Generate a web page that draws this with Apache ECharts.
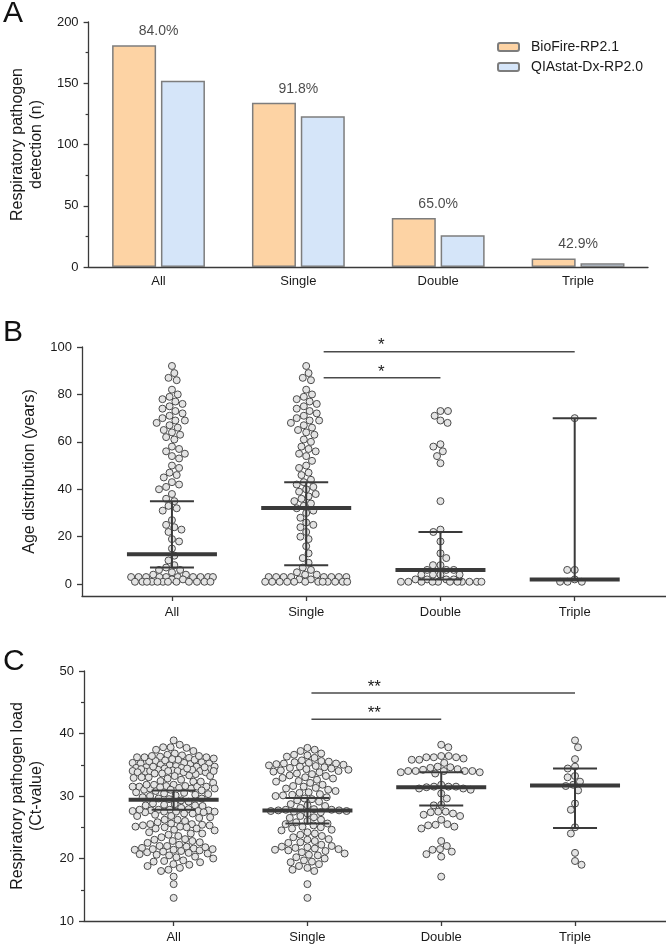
<!DOCTYPE html>
<html>
<head>
<meta charset="utf-8">
<script src="https://cdn.jsdelivr.net/npm/echarts@6/dist/echarts.min.js"></script>
<style>
html,body{margin:0;padding:0;background:#fff;}
#main{width:666px;height:949px;}
</style>
</head>
<body>
<div id="main"></div>
<script>
// ---------------- data ----------------
const categories = ['All', 'Single', 'Double', 'Triple'];
const seriesNames = ['BioFire-RP2.1', 'QIAstat-Dx-RP2.0'];
const bioFire = [181, 134, 40, 7];
const qiastat = [152, 123, 26, 3];

// Panel B: age (years)
const ageAll = [92, 89, 87, 86, 82, 80, 79, 78, 77, 76, 75, 74, 73, 72, 71, 70, 69, 69, 68, 67, 66, 65, 64, 63, 62, 61,
  58, 57, 56, 55, 54, 53, 50, 49, 47, 46, 45, 43, 42, 41, 40, 38, 36, 35, 33, 32, 31, 27, 25, 24, 23, 22, 19, 18, 15,
  12, 10, 8, 7, 6, 6, 5, 4, 4, 3, 3, 3, 3, 3, 3, 3, 3, 3, 3, 2, 2, 1, 1, 1, 1, 1, 1, 1, 1, 1, 1, 1, 1];
const ageSingle = [92, 89, 87, 86, 82, 80, 79, 78, 77, 76, 75, 74, 73, 72, 71, 70, 69, 69, 68, 67, 66, 65, 64, 63, 61,
  60, 58, 57, 56, 55, 54, 52, 50, 49, 47, 46, 44, 43, 42, 41, 40, 39, 38, 37, 36, 35, 34, 33, 32, 31, 30, 28, 26, 25,
  24, 22, 20, 19, 16, 13, 11, 9, 7, 6, 5, 4, 4, 3, 3, 3, 3, 3, 3, 3, 3, 2, 2, 1, 1, 1, 1, 1, 1, 1, 1, 1, 1, 1, 1];
const ageDouble = [73, 73, 71, 69, 68, 59, 58, 56, 54, 51, 35, 23, 22, 18, 13, 11, 8, 8, 6, 6, 6, 4, 4, 4, 4,
  2, 2, 2, 2, 1, 1, 1, 1, 1, 1, 1, 1, 1, 1, 1];
const ageTriple = [70, 6, 6, 2, 1, 1, 1];
const ageMedian = [12.6, 32.1, 6.0, 2.0];
const ageLower = [7.0, 8.0, 2.0, 2.0];
const ageUpper = [35.0, 43.0, 22.0, 70.0];
const ageTicks = [0, 20, 40, 60, 80, 100];
const ageMinorTicks = [10, 30, 50, 70, 90];
const sigAgeStart = [1.13, 1.13];
const sigAgeEnd = [3, 2];
const sigAgeLevel = [98, 87];
const sigAgeStarX = [1.56, 1.56];
const sigAgeText = ['*', '*'];

// Panel C: Ct values
const ctSingle = [37.7, 37.4, 37.2,
  36.8, 36.6, 36.3, 36.1, 36.5,
  35.6, 35.4, 35.2, 35.1, 35.5, 35.3, 35.0, 35.7, 35.2,
  34.9, 34.7, 34.5, 34.2, 34.0, 34.8, 34.4, 34.1, 34.6, 34.3,
  33.8, 33.5, 33.2, 33.0, 33.6, 33.3, 33.9,
  32.9, 32.6, 32.3, 32.1, 32.8, 32.4,
  31.8, 31.5, 31.2, 31.6, 31.3, 31.0,
  30.8, 30.5, 30.2, 30.0, 30.6, 30.3, 30.1,
  29.8, 29.5, 29.3, 29.6, 29.1,
  28.7, 28.4, 28.1, 28.5,
  27.9, 27.7, 27.6, 27.8, 27.7, 27.5, 27.6, 27.8, 27.4, 27.2,
  26.8, 26.5, 26.2, 26.0, 26.6,
  25.8, 25.5, 25.3, 25.1, 25.6, 25.0,
  24.8, 24.5, 24.2, 24.0, 24.6,
  23.8, 23.4, 23.1, 23.6, 23.0,
  22.8, 22.5, 22.2, 22.0, 22.6,
  21.9, 21.6, 21.4, 21.2, 21.0, 21.5, 21.7, 21.3, 21.8,
  20.8, 20.5, 20.2, 20.0, 20.6,
  19.7, 19.4, 19.1, 19.5,
  18.8, 18.5, 18.2, 18.0,
  15.9, 13.7];
const ctDouble = [38.2, 37.8, 36.4, 36.2, 36.2, 36.0, 35.8, 35.8, 36.4, 36.2, 35.3,
  34.7, 34.5, 34.3, 34.0, 34.0, 34.0, 33.6, 34.0, 34.0, 34.2, 33.8, 33.8, 34.6,
  31.5, 31.0, 31.2, 31.5, 31.2, 31.5, 31.8, 31.4, 30.4,
  29.6, 28.6, 28.5,
  27.5, 27.0, 26.8, 27.4, 27.2, 27.5, 26.2,
  25.4, 24.8, 25.1, 25.5, 25.3,
  22.8, 22.0, 21.4, 21.1, 21.5, 20.7, 20.3,
  17.1];
const ctTriple = [38.9, 37.8, 35.9, 34.7, 34.4, 33.2, 33.0, 32.3, 31.8, 31.6, 30.9, 28.8, 27.8, 25.0, 24.0, 20.9, 19.6, 19.0];
const ctAll = ctSingle.concat(ctDouble, ctTriple);
const ctMedian = [29.4, 27.7, 31.4, 31.7];
const ctLower = [27.8, 25.6, 28.5, 24.9];
const ctUpper = [30.9, 29.7, 33.8, 34.4];
const sigCtStart = [1.03, 1.03];
const sigCtEnd = [3, 2];
const sigCtLevel = [46.5, 42.3];
const sigCtStarX = [1.5, 1.5];
const sigCtText = ['**', '**'];

const ageGroups = [ageAll, ageSingle, ageDouble, ageTriple];
const ctGroups = [ctAll, ctSingle, ctDouble, ctTriple];

// ---------------- styles ----------------
const FONT = '"Liberation Sans", Arial, Helvetica, sans-serif';
const AX = '#3a3a3a';
const TXT = '#1a1a1a';
const LINE = '#3a3a3a';

function summaryRender(params, api) {
  const x = api.value(0);
  const pm = api.coord([x, api.value(1)]);
  const pl = api.coord([x, api.value(2)]);
  const pu = api.coord([x, api.value(3)]);
  const st = {stroke: LINE, lineWidth: 2};
  return {type: 'group', children: [
    {type: 'line', shape: {x1: pl[0], y1: pl[1], x2: pu[0], y2: pu[1]}, style: st},
    {type: 'line', shape: {x1: pu[0] - 22, y1: pu[1], x2: pu[0] + 22, y2: pu[1]}, style: st},
    {type: 'line', shape: {x1: pl[0] - 22, y1: pl[1], x2: pl[0] + 22, y2: pl[1]}, style: st},
    {type: 'line', shape: {x1: pm[0] - 45, y1: pm[1], x2: pm[0] + 45, y2: pm[1]}, style: {stroke: LINE, lineWidth: 4}}
  ]};
}
function bracketRender(texts) {
  return function (params, api) {
    const a = api.coord([api.value(0), api.value(2)]);
    const b = api.coord([api.value(1), api.value(2)]);
    const s = api.coord([api.value(3), api.value(2)]);
    return {type: 'group', children: [
      {type: 'line', shape: {x1: a[0], y1: a[1], x2: b[0], y2: b[1]}, style: {stroke: '#4a4a4a', lineWidth: 1.5}},
      {type: 'text', x: s[0], y: s[1] - 6, style: {text: texts[params.dataIndex], fontSize: 17, fontFamily: FONT,
        fill: TXT, align: 'center', verticalAlign: 'middle'}}
    ]};
  };
}

const axisLabelStyle = {fontSize: 13, color: TXT, fontFamily: FONT};
const nameStyle = {fontSize: 16, color: TXT, fontFamily: FONT, lineHeight: 19};
const axLine = {show: true, onZero: false, lineStyle: {color: AX, width: 1.3}};

function initialDots(groups) {
  const d = [];
  groups.forEach((g, gi) => g.forEach(v => d.push([gi, v])));
  return d;
}

const option = {
  animation: false,
  textStyle: {fontFamily: FONT},
  grid: [
    {left: 80, right: 18, top: 22, height: 245},
    {left: 82, right: 0, top: 347, height: 249},
    {left: 82, right: 0, top: 671, height: 250}
  ],
  legend: {
    data: seriesNames, orient: 'vertical', left: 492, top: 35,
    itemWidth: 21, itemHeight: 8, itemGap: 6,
    textStyle: {fontSize: 14, color: TXT, fontFamily: FONT, padding: [0, 0, 0, 7]}
  },
  xAxis: [
    {gridIndex: 0, type: 'category', data: categories,
      axisLine: axLine,
      axisTick: {alignWithLabel: true, length: 5, lineStyle: {color: AX, width: 1.3}},
      axisLabel: Object.assign({margin: 8}, axisLabelStyle)},
    {gridIndex: 1, type: 'value', min: -0.67, max: 3.68,
      axisLine: axLine,
      axisTick: {customValues: [0, 1, 2, 3], length: 5, lineStyle: {color: AX, width: 1.3}},
      axisLabel: Object.assign({customValues: [0, 1, 2, 3], margin: 10, formatter: v => categories[Math.round(v)]}, axisLabelStyle),
      splitLine: {show: false}},
    {gridIndex: 2, type: 'value', min: -0.67, max: 3.68,
      axisLine: axLine,
      axisTick: {customValues: [0, 1, 2, 3], length: 5, lineStyle: {color: AX, width: 1.3}},
      axisLabel: Object.assign({customValues: [0, 1, 2, 3], margin: 10, formatter: v => categories[Math.round(v)]}, axisLabelStyle),
      splitLine: {show: false}}
  ],
  yAxis: [
    {gridIndex: 0, type: 'value', min: 0, max: 200, interval: 50,
      name: 'Respiratory pathogen\ndetection (n)', nameLocation: 'middle', nameGap: 40, nameTextStyle: nameStyle,
      axisLine: axLine,
      axisTick: {show: true, length: 5, lineStyle: {color: AX, width: 1.3}},
      minorTick: {show: true, splitNumber: 2, length: 3, lineStyle: {color: AX, width: 1.2}},
      axisLabel: Object.assign({margin: 10}, axisLabelStyle),
      splitLine: {show: false}},
    {gridIndex: 1, type: 'value', min: -5, max: 100,
      name: 'Age distribution (years)', nameLocation: 'middle', nameGap: 40, nameTextStyle: nameStyle,
      axisLine: axLine,
      axisTick: {show: true, customValues: ageTicks, length: 5, lineStyle: {color: AX, width: 1.3}},
      axisLabel: Object.assign({customValues: ageTicks, margin: 10}, axisLabelStyle),
      splitLine: {show: false}},
    {gridIndex: 1, type: 'value', min: -5, max: 100,
      axisLine: {show: false, onZero: false},
      axisTick: {show: true, customValues: ageMinorTicks, length: 3, lineStyle: {color: AX, width: 1.2}},
      axisLabel: {show: false}, splitLine: {show: false}},
    {gridIndex: 2, type: 'value', min: 10, max: 50, interval: 10,
      name: 'Respiratory pathogen load\n(Ct-value)', nameLocation: 'middle', nameGap: 38, nameTextStyle: nameStyle,
      axisLine: axLine,
      axisTick: {show: true, length: 5, lineStyle: {color: AX, width: 1.3}},
      minorTick: {show: true, splitNumber: 2, length: 3, lineStyle: {color: AX, width: 1.2}},
      axisLabel: Object.assign({margin: 10}, axisLabelStyle),
      splitLine: {show: false}}
  ],
  series: [
    {name: seriesNames[0], type: 'bar', xAxisIndex: 0, yAxisIndex: 0, data: bioFire, barWidth: 44, barGap: '11%',
      itemStyle: {color: '#FDD3A4', borderColor: '#7d7d7d', borderWidth: 1.5}},
    {name: seriesNames[1], type: 'bar', xAxisIndex: 0, yAxisIndex: 0, data: qiastat, barWidth: 44, barGap: '11%',
      itemStyle: {color: '#D5E5F9', borderColor: '#7d7d7d', borderWidth: 1.5}},
    {type: 'scatter', xAxisIndex: 0, yAxisIndex: 0, data: bioFire, symbolSize: 0, silent: true, z: 5,
      label: {show: true, position: 'top', distance: 7, fontSize: 14, color: TXT, fontFamily: FONT,
        formatter: p => (qiastat[p.dataIndex] / bioFire[p.dataIndex] * 100).toFixed(1) + '%'}},
    {id: 'ageDots', type: 'scatter', xAxisIndex: 1, yAxisIndex: 1, data: initialDots(ageGroups), symbolSize: 7,
      itemStyle: {color: '#e4e4e4', borderColor: '#4a4a4a', borderWidth: 1, opacity: 1}, z: 2},
    {type: 'custom', xAxisIndex: 1, yAxisIndex: 1, z: 10,
      data: categories.map((c, i) => [i, ageMedian[i], ageLower[i], ageUpper[i]]), renderItem: summaryRender},
    {type: 'custom', xAxisIndex: 1, yAxisIndex: 1, z: 10,
      data: sigAgeLevel.map((y, i) => [sigAgeStart[i], sigAgeEnd[i], y, sigAgeStarX[i]]), renderItem: bracketRender(sigAgeText)},
    {id: 'ctDots', type: 'scatter', xAxisIndex: 2, yAxisIndex: 3, data: initialDots(ctGroups), symbolSize: 7,
      itemStyle: {color: '#e4e4e4', borderColor: '#4a4a4a', borderWidth: 1, opacity: 1}, z: 2},
    {type: 'custom', xAxisIndex: 2, yAxisIndex: 3, z: 10,
      data: categories.map((c, i) => [i, ctMedian[i], ctLower[i], ctUpper[i]]), renderItem: summaryRender},
    {type: 'custom', xAxisIndex: 2, yAxisIndex: 3, z: 10,
      data: sigCtLevel.map((y, i) => [sigCtStart[i], sigCtEnd[i], y, sigCtStarX[i]]), renderItem: bracketRender(sigCtText)}
  ],
  graphic: [
    {type: 'text', left: 3, top: -1, style: {text: 'A', fontSize: 30, fill: '#111', fontFamily: FONT}},
    {type: 'text', left: 3, top: 318, style: {text: 'B', fontSize: 30, fill: '#111', fontFamily: FONT}},
    {type: 'text', left: 3, top: 647, style: {text: 'C', fontSize: 30, fill: '#111', fontFamily: FONT}}
  ]
};

const chart = echarts.init(document.getElementById('main'), null, {renderer: 'canvas'});
chart.setOption(option);

// ---------------- beeswarm layout (pixel space, via the chart's own scales) ----------------
function swarm(ys, d, maxHalf) {
  const idx = ys.map((y, i) => i).sort((a, b) => ys[a] - ys[b]);
  const placed = [];
  const xs = new Array(ys.length);
  let flip = 1;
  for (const i of idx) {
    const y = ys[i];
    const near = placed.filter(p => Math.abs(p.y - y) < d);
    const cands = [0];
    near.forEach(p => {
      const dx = Math.sqrt(d * d - (p.y - y) * (p.y - y));
      cands.push(p.x + dx, p.x - dx);
    });
    cands.sort((a, b) => (Math.abs(a) - Math.abs(b)) || (a - b) * flip);
    let best = null;
    for (const c of cands) {
      if (Math.abs(c) > maxHalf + 1e-6) continue;
      if (near.every(p => (p.x - c) * (p.x - c) + (p.y - y) * (p.y - y) >= d * d - 1e-3)) { best = c; break; }
    }
    if (best === null) {
      let bestScore = -1;
      for (let c = -maxHalf; c <= maxHalf + 1e-9; c += 0.5) {
        let m = Infinity;
        near.forEach(p => { m = Math.min(m, (p.x - c) * (p.x - c) + (p.y - y) * (p.y - y)); });
        if (m > bestScore + 1e-9) { bestScore = m; best = c; }
      }
    }
    flip = -flip;
    xs[i] = best;
    placed.push({x: best, y: y});
  }
  return xs;
}

function layoutDots(groups, seriesIndex) {
  const f = {seriesIndex: seriesIndex};
  const unit = chart.convertToPixel(f, [1, 0])[0] - chart.convertToPixel(f, [0, 0])[0];
  const out = [];
  groups.forEach((vals, g) => {
    const ys = vals.map(v => chart.convertToPixel(f, [g, v])[1]);
    const xs = swarm(ys, 7.5, 41);
    vals.forEach((v, k) => out.push([g + xs[k] / unit, v]));
  });
  return out;
}

chart.setOption({series: [
  {id: 'ageDots', data: layoutDots(ageGroups, 3)},
  {id: 'ctDots', data: layoutDots(ctGroups, 6)}
]});
</script>
</body>
</html>
